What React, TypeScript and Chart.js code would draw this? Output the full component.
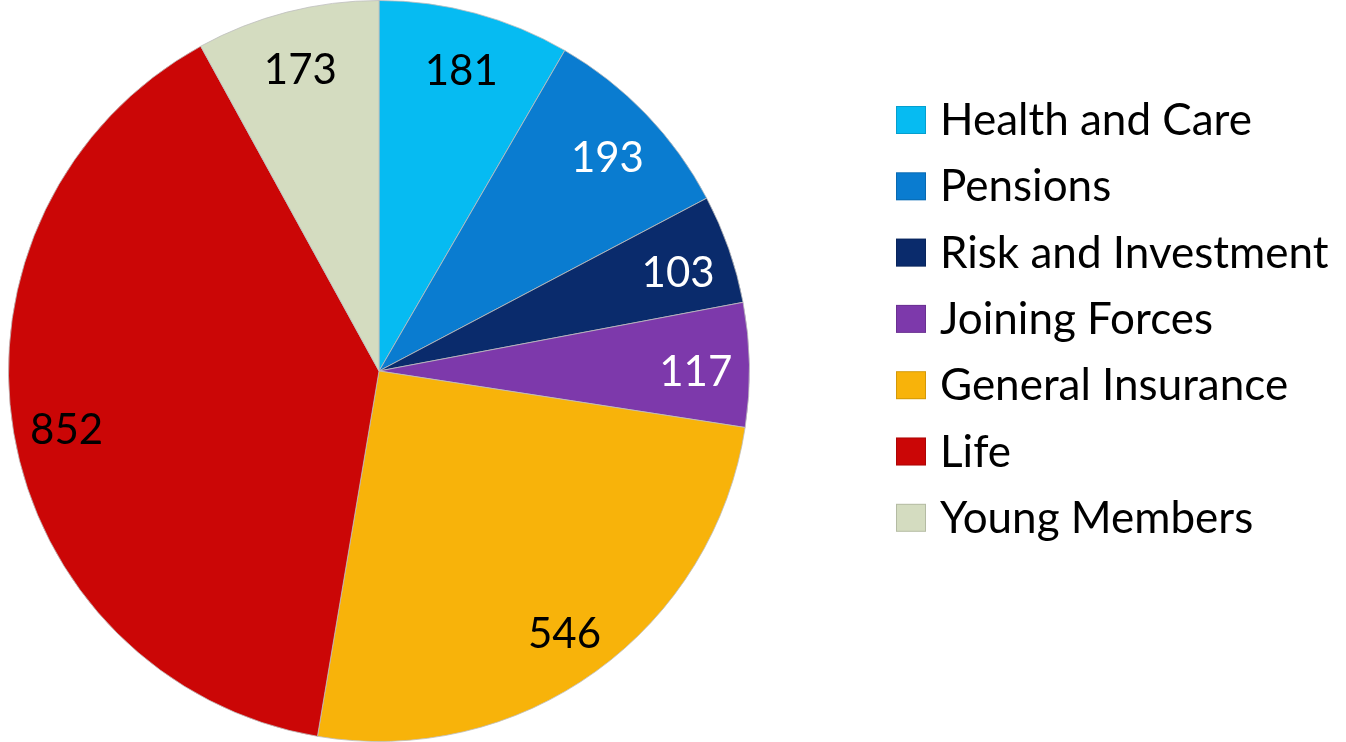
import React, { useEffect, useRef } from 'react';
import { Chart, registerables } from 'chart.js';

Chart.register(...registerables);

const categories = ['Health and Care', 'Pensions', 'Risk and Investment', 'Joining Forces', 'General Insurance', 'Life', 'Young Members'];
const values = [181, 193, 103, 117, 546, 852, 173];
const colors = ['#06BBF2', '#0A7CD0', '#0A2B6C', '#7D39AB', '#F8B30A', '#CB0606', '#D4DCC0'];
const labelColors = ['#000000', '#FFFFFF', '#FFFFFF', '#FFFFFF', '#000000', '#000000', '#000000'];

const FONT = 'Lato, "Open Sans", sans-serif';

const labelPlugin = {
  id: 'sliceLabels',
  afterDatasetsDraw(chart: any) {
    const ctx = chart.ctx;
    const meta = chart.getDatasetMeta(0);
    ctx.save();
    ctx.font = `42px ${FONT}`;
    ctx.textAlign = 'center';
    ctx.textBaseline = 'alphabetic';
    meta.data.forEach((arc: any, i: number) => {
      const p = arc.getProps(['x', 'y', 'startAngle', 'endAngle', 'outerRadius'], true);
      const mid = (p.startAngle + p.endAngle) / 2;
      const r = p.outerRadius * 0.855;
      const x = p.x + Math.cos(mid) * r;
      const y = p.y + Math.sin(mid) * r;
      ctx.fillStyle = labelColors[i];
      ctx.fillText(String(values[i]), x, y + 20);
    });
    ctx.restore();
  },
};

const legendPlugin = {
  id: 'sideLegend',
  afterDraw(chart: any) {
    const ctx = chart.ctx;
    ctx.save();
    ctx.font = `44px ${FONT}`;
    ctx.textAlign = 'left';
    ctx.textBaseline = 'alphabetic';
    categories.forEach((name, i) => {
      const cy = 120 + i * 66.3;
      ctx.fillStyle = colors[i];
      ctx.fillRect(896, cy - 14, 30, 28);
      ctx.strokeStyle = 'rgba(0,0,0,0.15)';
      ctx.lineWidth = 1;
      ctx.strokeRect(896.5, cy - 13.5, 29, 27);
      ctx.fillStyle = '#000000';
      ctx.fillText(name, 940, cy + 15);
    });
    ctx.restore();
  },
};

export default function App() {
  const ref = useRef<HTMLCanvasElement | null>(null);
  useEffect(() => {
    document.body.style.margin = '0';
    if (!ref.current) return;
    const chart = new Chart(ref.current, {
      type: 'pie',
      data: {
        labels: categories,
        datasets: [
          {
            data: values,
            backgroundColor: colors,
            borderColor: 'rgba(190,190,190,0.8)',
            borderWidth: 1,
          },
        ],
      },
      options: {
        responsive: false,
        animation: false,
        layout: { padding: { left: 7, right: 595, top: 0, bottom: 0 } },
        plugins: {
          legend: { display: false },
          tooltip: { enabled: false },
        },
      },
      plugins: [labelPlugin, legendPlugin],
    });
    return () => chart.destroy();
  }, []);
  return (
    <div style={{ position: 'absolute', left: 0, top: 0, width: 1346, height: 742, background: '#fff' }}>
      <canvas ref={ref} width={1346} height={742} style={{ display: 'block' }} />
    </div>
  );
}
